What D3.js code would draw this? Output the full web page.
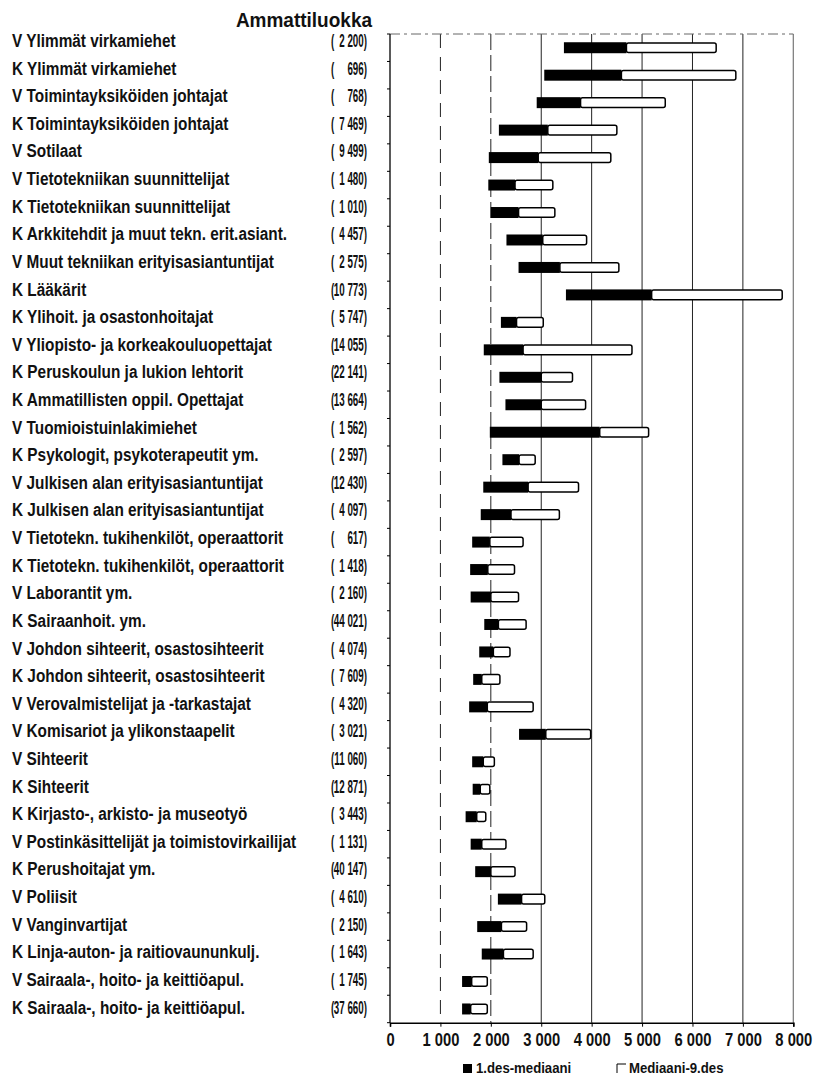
<!DOCTYPE html>
<html>
<head>
<meta charset="utf-8">
<script src="https://cdn.jsdelivr.net/npm/d3@7"></script>
<style>
  body { margin: 0; background: #fff; }
  svg text { font-family: "Liberation Sans", Arial, sans-serif; font-weight: bold; fill: #111; }
</style>
</head>
<body>
<div class="canvas"></div>
<script>
// data
const occupations = [
  'V Ylimmät virkamiehet', 'K Ylimmät virkamiehet', 'V Toimintayksiköiden johtajat',
  'K Toimintayksiköiden johtajat', 'V Sotilaat', 'V Tietotekniikan suunnittelijat',
  'K Tietotekniikan suunnittelijat', 'K Arkkitehdit ja muut tekn. erit.asiant.',
  'V Muut tekniikan erityisasiantuntijat', 'K Lääkärit', 'K Ylihoit. ja osastonhoitajat',
  'V Yliopisto- ja korkeakouluopettajat', 'K Peruskoulun ja lukion lehtorit',
  'K Ammatillisten oppil. Opettajat', 'V Tuomioistuinlakimiehet',
  'K Psykologit, psykoterapeutit ym.', 'V Julkisen alan erityisasiantuntijat',
  'K Julkisen alan erityisasiantuntijat', 'V Tietotekn. tukihenkilöt, operaattorit',
  'K Tietotekn. tukihenkilöt, operaattorit', 'V Laborantit ym.', 'K Sairaanhoit. ym.',
  'V Johdon sihteerit, osastosihteerit', 'K Johdon sihteerit, osastosihteerit',
  'V Verovalmistelijat ja -tarkastajat', 'V Komisariot ja ylikonstaapelit',
  'V Sihteerit', 'K Sihteerit', 'K Kirjasto-, arkisto- ja museotyö',
  'V Postinkäsittelijät ja toimistovirkailijat', 'K Perushoitajat ym.', 'V Poliisit',
  'V Vanginvartijat', 'K Linja-auton- ja raitiovaununkulj.',
  'V Sairaala-, hoito- ja keittiöapul.', 'K Sairaala-, hoito- ja keittiöapul.'
];
const counts = [2200, 696, 768, 7469, 9499, 1480, 1010, 4457, 2575, 10773, 5747, 14055,
  22141, 13664, 1562, 2597, 12430, 4097, 617, 1418, 2160, 44021, 4074, 7609, 4320, 3021,
  11060, 12871, 3443, 1131, 40147, 4610, 2150, 1643, 1745, 37660];
const decile1 = [3450, 3060, 2910, 2160, 1960, 1950, 2000, 2310, 2550, 3490, 2200, 1860,
  2170, 2290, 1980, 2230, 1850, 1800, 1630, 1590, 1600, 1870, 1770, 1650, 1570, 2560,
  1630, 1640, 1500, 1600, 1690, 2140, 1730, 1820, 1430, 1430];
const median = [4690, 4590, 3780, 3130, 2940, 2480, 2550, 3030, 3370, 5190, 2510, 2640,
  3000, 3000, 4160, 2560, 2740, 2400, 1980, 1940, 2000, 2150, 2050, 1820, 1930, 3090,
  1850, 1790, 1720, 1820, 2000, 2610, 2210, 2250, 1620, 1600];
const decile9 = [6470, 6860, 5460, 4500, 4380, 3230, 3270, 3900, 4540, 7780, 3040, 4800,
  3620, 3880, 5130, 2880, 3740, 3360, 2640, 2470, 2550, 2700, 2380, 2180, 2840, 3980,
  2070, 1980, 1900, 2300, 2480, 3070, 2710, 2840, 1930, 1930];
const xTicks = [0, 1000, 2000, 3000, 4000, 5000, 6000, 7000, 8000];
const legendLabels = ['1.des-mediaani', 'Mediaani-9.des'];

const rows = occupations.map((name, i) => ({
  i, name, n: counts[i], d1: decile1[i], med: median[i], d9: decile9[i]
}));

const dims = { width: 827, height: 1077 };
const plot = { left: 390, right: 793.3, top: 34, bottom: 1022.7 };

const svg = d3.select('.canvas').append('svg')
  .attr('width', dims.width)
  .attr('height', dims.height);

const x = d3.scaleLinear().domain([0, 8000]).range([plot.left, plot.right]);
const y = d3.scaleBand().domain(d3.range(rows.length))
  .range([plot.top, plot.bottom])
  .paddingInner(0.6).paddingOuter(0.3);
// text rows sit on a slightly wider pitch than the bars
const yText = d3.scalePoint().domain(d3.range(rows.length)).range([47, 1013.5]);

const fmt = d3.formatLocale({ decimal: ',', thousands: ' ', grouping: [3], currency: ['', ''] }).format(',');

// grid
const grid = svg.append('g');
grid.selectAll('line').data(xTicks.slice(1)).enter().append('line')
  .attr('x1', d => x(d)).attr('x2', d => x(d))
  .attr('y1', plot.top).attr('y2', plot.bottom)
  .attr('stroke', d => d === 8000 ? '#777' : '#222')
  .attr('stroke-width', d => d === 8000 ? 1.2 : 1)
  .attr('stroke-dasharray', d => d === 1000 ? '14,9' : d === 2000 ? '16,5' : null);

// top frame (light, broken)
svg.append('line')
  .attr('x1', plot.left).attr('x2', plot.right)
  .attr('y1', plot.top).attr('y2', plot.top)
  .attr('stroke', '#666').attr('stroke-width', 1)
  .attr('stroke-dasharray', '10,4,3,4');

// bars
const bars = svg.append('g');
bars.selectAll('.low').data(rows).enter().append('rect')
  .attr('class', 'low')
  .attr('x', d => x(d.d1))
  .attr('y', d => y(d.i))
  .attr('width', d => x(d.med) - x(d.d1))
  .attr('height', y.bandwidth())
  .attr('fill', '#000');
bars.selectAll('.high').data(rows).enter().append('rect')
  .attr('class', 'high')
  .attr('x', d => x(d.med))
  .attr('y', d => y(d.i) + 0.7)
  .attr('width', d => x(d.d9) - x(d.med))
  .attr('height', y.bandwidth() - 1.4)
  .attr('rx', 2)
  .attr('fill', '#fff')
  .attr('stroke', '#000')
  .attr('stroke-width', 1.5);

// y axis line + ticks at row boundaries
svg.append('line')
  .attr('x1', plot.left).attr('x2', plot.left)
  .attr('y1', plot.top).attr('y2', plot.bottom)
  .attr('stroke', '#000').attr('stroke-width', 1.3);
svg.append('g').selectAll('line').data(d3.range(rows.length + 1)).enter().append('line')
  .attr('x1', plot.left - 3).attr('x2', plot.left)
  .attr('y1', d => plot.top + d * y.step())
  .attr('y2', d => plot.top + d * y.step())
  .attr('stroke', '#000');

// x axis
const xAxis = d3.axisBottom(x).tickValues(xTicks).tickSize(4).tickPadding(6)
  .tickFormat(d => fmt(d));
const xg = svg.append('g')
  .attr('transform', `translate(0,${plot.bottom})`)
  .call(xAxis);
xg.select('.domain').attr('stroke', '#000').attr('stroke-width', 1.6);
xg.selectAll('.tick line').attr('stroke', '#000');
xg.selectAll('.tick text')
  .attr('font-size', 18)
  .attr('font-family', null)
  .attr('fill', '#111')
  .attr('dy', null).attr('y', null)
  .attr('transform', 'translate(0,23) scale(0.82,1)');

// labels
svg.append('text')
  .attr('transform', 'translate(372,27) scale(1,1.05)')
  .attr('text-anchor', 'end')
  .attr('font-size', 19)
  .text('Ammattiluokka');

const labels = svg.append('g');
labels.selectAll('.name').data(rows).enter().append('text')
  .attr('class', 'name')
  .attr('transform', d => `translate(12,${yText(d.i)}) scale(0.83,1)`)
  .attr('font-size', 18.5)
  .text(d => d.name);

// counts: "(" fixed on the left, number right-aligned
const countG = labels.selectAll('.count').data(rows).enter().append('g')
  .attr('class', 'count')
  .attr('transform', d => `translate(0,${yText(d.i)})`);
countG.append('text')
  .attr('transform', 'translate(331,0) scale(0.56,1)')
  .attr('font-size', 17.5)
  .text('(');
countG.append('text')
  .attr('transform', 'translate(367,0) scale(0.56,1)')
  .attr('text-anchor', 'end')
  .attr('font-size', 17.5)
  .text(d => fmt(d.n) + ')');

// legend
const legend = svg.append('g');
legend.append('rect')
  .attr('x', 463).attr('y', 1064).attr('width', 9).attr('height', 9)
  .attr('fill', '#000');
legend.append('text')
  .attr('transform', 'translate(476,1073) scale(0.88,1)')
  .attr('font-size', 15)
  .text(legendLabels[0]);
legend.append('path')
  .attr('d', 'M617,1073 L617,1064 L626,1064')
  .attr('fill', 'none').attr('stroke', '#000').attr('stroke-width', 1);
legend.append('text')
  .attr('transform', 'translate(629,1073) scale(0.88,1)')
  .attr('font-size', 15)
  .text(legendLabels[1]);
</script>
</body>
</html>
